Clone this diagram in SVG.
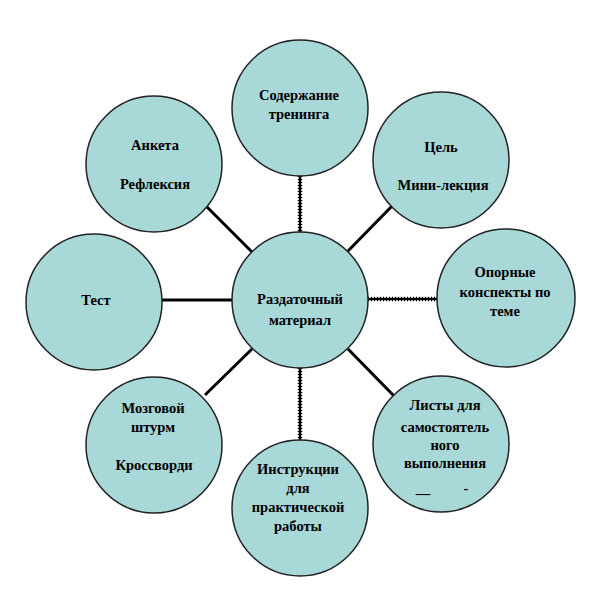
<svg xmlns="http://www.w3.org/2000/svg" width="600" height="600" viewBox="0 0 600 600">
<style>
.n{fill:#a8d8d8;stroke:#222;stroke-width:1.5}
.t{font-family:"Liberation Serif","Times New Roman","DejaVu Serif",serif;font-weight:bold;font-size:14.5px;fill:#000;text-anchor:middle}
.s{stroke:#000;stroke-width:3;fill:none}
.d1{stroke:#000;stroke-width:2.5;fill:none}
.d2{stroke:#000;stroke-width:4.5;stroke-dasharray:1 2;fill:none}
</style>
<rect width="600" height="600" fill="#fff"/>
<g id="connectors">
<line class="s" x1="205" y1="205" x2="253" y2="253"/>
<line class="s" x1="395" y1="203" x2="348" y2="251"/>
<line class="s" x1="205" y1="395" x2="252" y2="349"/>
<line class="s" x1="348" y1="349" x2="396" y2="398"/>
<line class="s" x1="162" y1="300" x2="232" y2="300"/>
<line class="d1" x1="300" y1="176" x2="300" y2="232"/>
<line class="d2" x1="300" y1="176" x2="300" y2="232"/>
<line class="d1" x1="368" y1="299" x2="437" y2="299"/>
<line class="d2" x1="368" y1="299" x2="437" y2="299"/>
<line class="d1" x1="300" y1="368" x2="300" y2="440"/>
<line class="d2" x1="300" y1="368" x2="300" y2="440"/>
</g>
<g id="center">
<circle class="n" cx="300" cy="300" r="68"/>
<text class="t" x="300" y="304">Раздаточный</text>
<text class="t" x="300" y="325">материал</text>
</g>
<g id="top">
<circle class="n" cx="300" cy="108" r="68"/>
<text class="t" x="299" y="100">Содержание</text>
<text class="t" x="299" y="119">тренинга</text>
</g>
<g id="topleft">
<circle class="n" cx="154" cy="164" r="68"/>
<text class="t" x="155" y="150">Анкета</text>
<text class="t" x="155" y="189">Рефлексия</text>
</g>
<g id="topright">
<circle class="n" cx="441" cy="160" r="68"/>
<text class="t" x="441" y="152">Цель</text>
<text class="t" x="443" y="190">Мини-лекция</text>
</g>
<g id="right">
<circle class="n" cx="506" cy="298" r="69"/>
<text class="t" x="505" y="277">Опорные</text>
<text class="t" x="505" y="297">конспекты по</text>
<text class="t" x="505" y="316">теме</text>
</g>
<g id="left">
<circle class="n" cx="94" cy="302" r="68"/>
<text class="t" x="96" y="305">Тест</text>
</g>
<g id="bottomleft">
<circle class="n" cx="154" cy="445" r="68"/>
<text class="t" x="153" y="413">Мозговой</text>
<text class="t" x="153" y="432">штурм</text>
<text class="t" x="154" y="470">Кроссворди</text>
</g>
<g id="bottomright">
<circle class="n" cx="441" cy="444" r="68"/>
<text class="t" x="445" y="410">Листы для</text>
<text class="t" x="445" y="432">самостоятель</text>
<text class="t" x="445" y="450">ного</text>
<text class="t" x="445" y="468">выполнения</text>
<text class="t" x="423" y="493">__</text>
<text class="t" x="466" y="493">-</text>
</g>
<g id="bottom">
<circle class="n" cx="300" cy="508" r="68"/>
<text class="t" x="298" y="474">Инструкции</text>
<text class="t" x="298" y="493">для</text>
<text class="t" x="298" y="512">практической</text>
<text class="t" x="298" y="531">работы</text>
</g>
</svg>
